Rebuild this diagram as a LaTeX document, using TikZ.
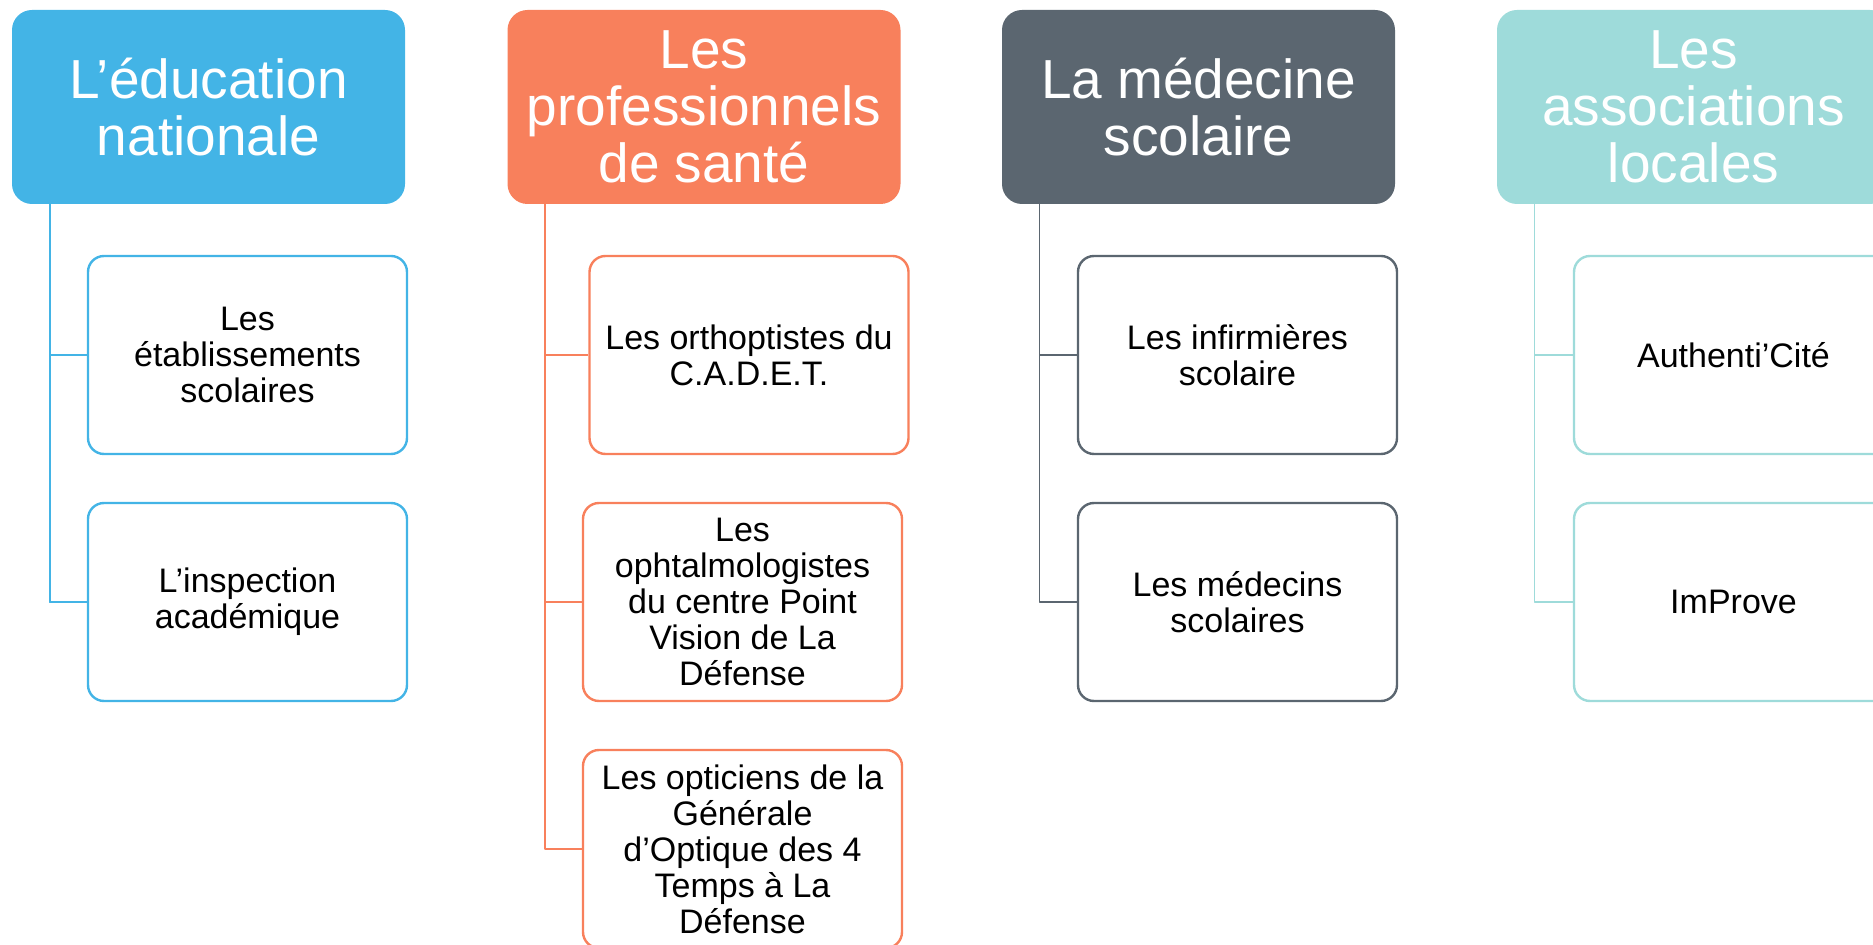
\documentclass[tikz,border=0pt]{standalone}
\usepackage{fontspec}
\setmainfont{Liberation Sans}
\definecolor{bleu}{RGB}{67,180,230}
\definecolor{corail}{RGB}{248,128,92}
\definecolor{ardoise}{RGB}{91,102,112}
\definecolor{turquoise}{RGB}{158,219,218}
\tikzset{
	entete/.style={rounded corners=10pt, minimum width=196.5pt, minimum height=97pt, inner sep=0pt, text=white, align=center, font=\fontsize{27.5}{28.5}\selectfont},
	membre/.style={draw, line width=1.2pt, rounded corners=8pt, fill=white, minimum width=159.5pt, minimum height=99pt, inner sep=0pt, align=center, font=\fontsize{17}{18}\selectfont},
	lien/.style={line width=0.7pt}
}
\begin{document}
\begin{tikzpicture}[x=0.5pt, y=-0.5pt, line join=round]
	% Cadre de l'image
	\useasboundingbox (0,0) rectangle (1873,945);
	
	% Les en-têtes
	\node[entete, fill=bleu] (hdA) at (208.5,107) {L’éducation\\nationale};
	\node[entete, fill=corail] (hdB) at (704,107) {Les\\professionnels\\de santé};
	\node[entete, fill=ardoise] (hdC) at (1198.5,107) {La médecine\\scolaire};
	\node[entete, fill=turquoise] (hdD) at (1693.5,107) {Les\\associations\\locales};
	
	% Les membres
	\node[membre, draw=bleu] (chA1) at (247.5,355) {Les\\établissements\\scolaires};
	\node[membre, draw=bleu] (chA2) at (247.5,602) {L’inspection\\académique};
	\node[membre, draw=corail] (chB1) at (749,355) {Les orthoptistes du\\C.A.D.E.T.};
	\node[membre, draw=corail] (chB2) at (742.5,602) {Les\\ophtalmologistes\\du centre Point\\Vision de La\\Défense};
	\node[membre, draw=corail] (chB3) at (742.5,849) {Les opticiens de la\\Générale\\d’Optique des 4\\Temps à La\\Défense};
	\node[membre, draw=ardoise] (chC1) at (1237.5,355) {Les infirmières\\scolaire};
	\node[membre, draw=ardoise] (chC2) at (1237.5,602) {Les médecins\\scolaires};
	\node[membre, draw=turquoise] (chD1) at (1733.5,355) {Authenti’Cité};
	\node[membre, draw=turquoise] (chD2) at (1733.5,602) {ImProve};
	
	% Les liaisons
	\foreach \h/\m/\c in {hdA/chA1/bleu, hdA/chA2/bleu, hdB/chB1/corail, hdB/chB2/corail, hdB/chB3/corail, hdC/chC1/ardoise, hdC/chC2/ardoise, hdD/chD1/turquoise, hdD/chD2/turquoise}
	\draw[lien, draw=\c] ([xshift=19pt]\h.south west) |- (\m.west);
	\draw[line width=1pt, bleu] ([xshift=19pt]hdA.south west) |- (chA2.west);
\end{tikzpicture}
\end{document}
